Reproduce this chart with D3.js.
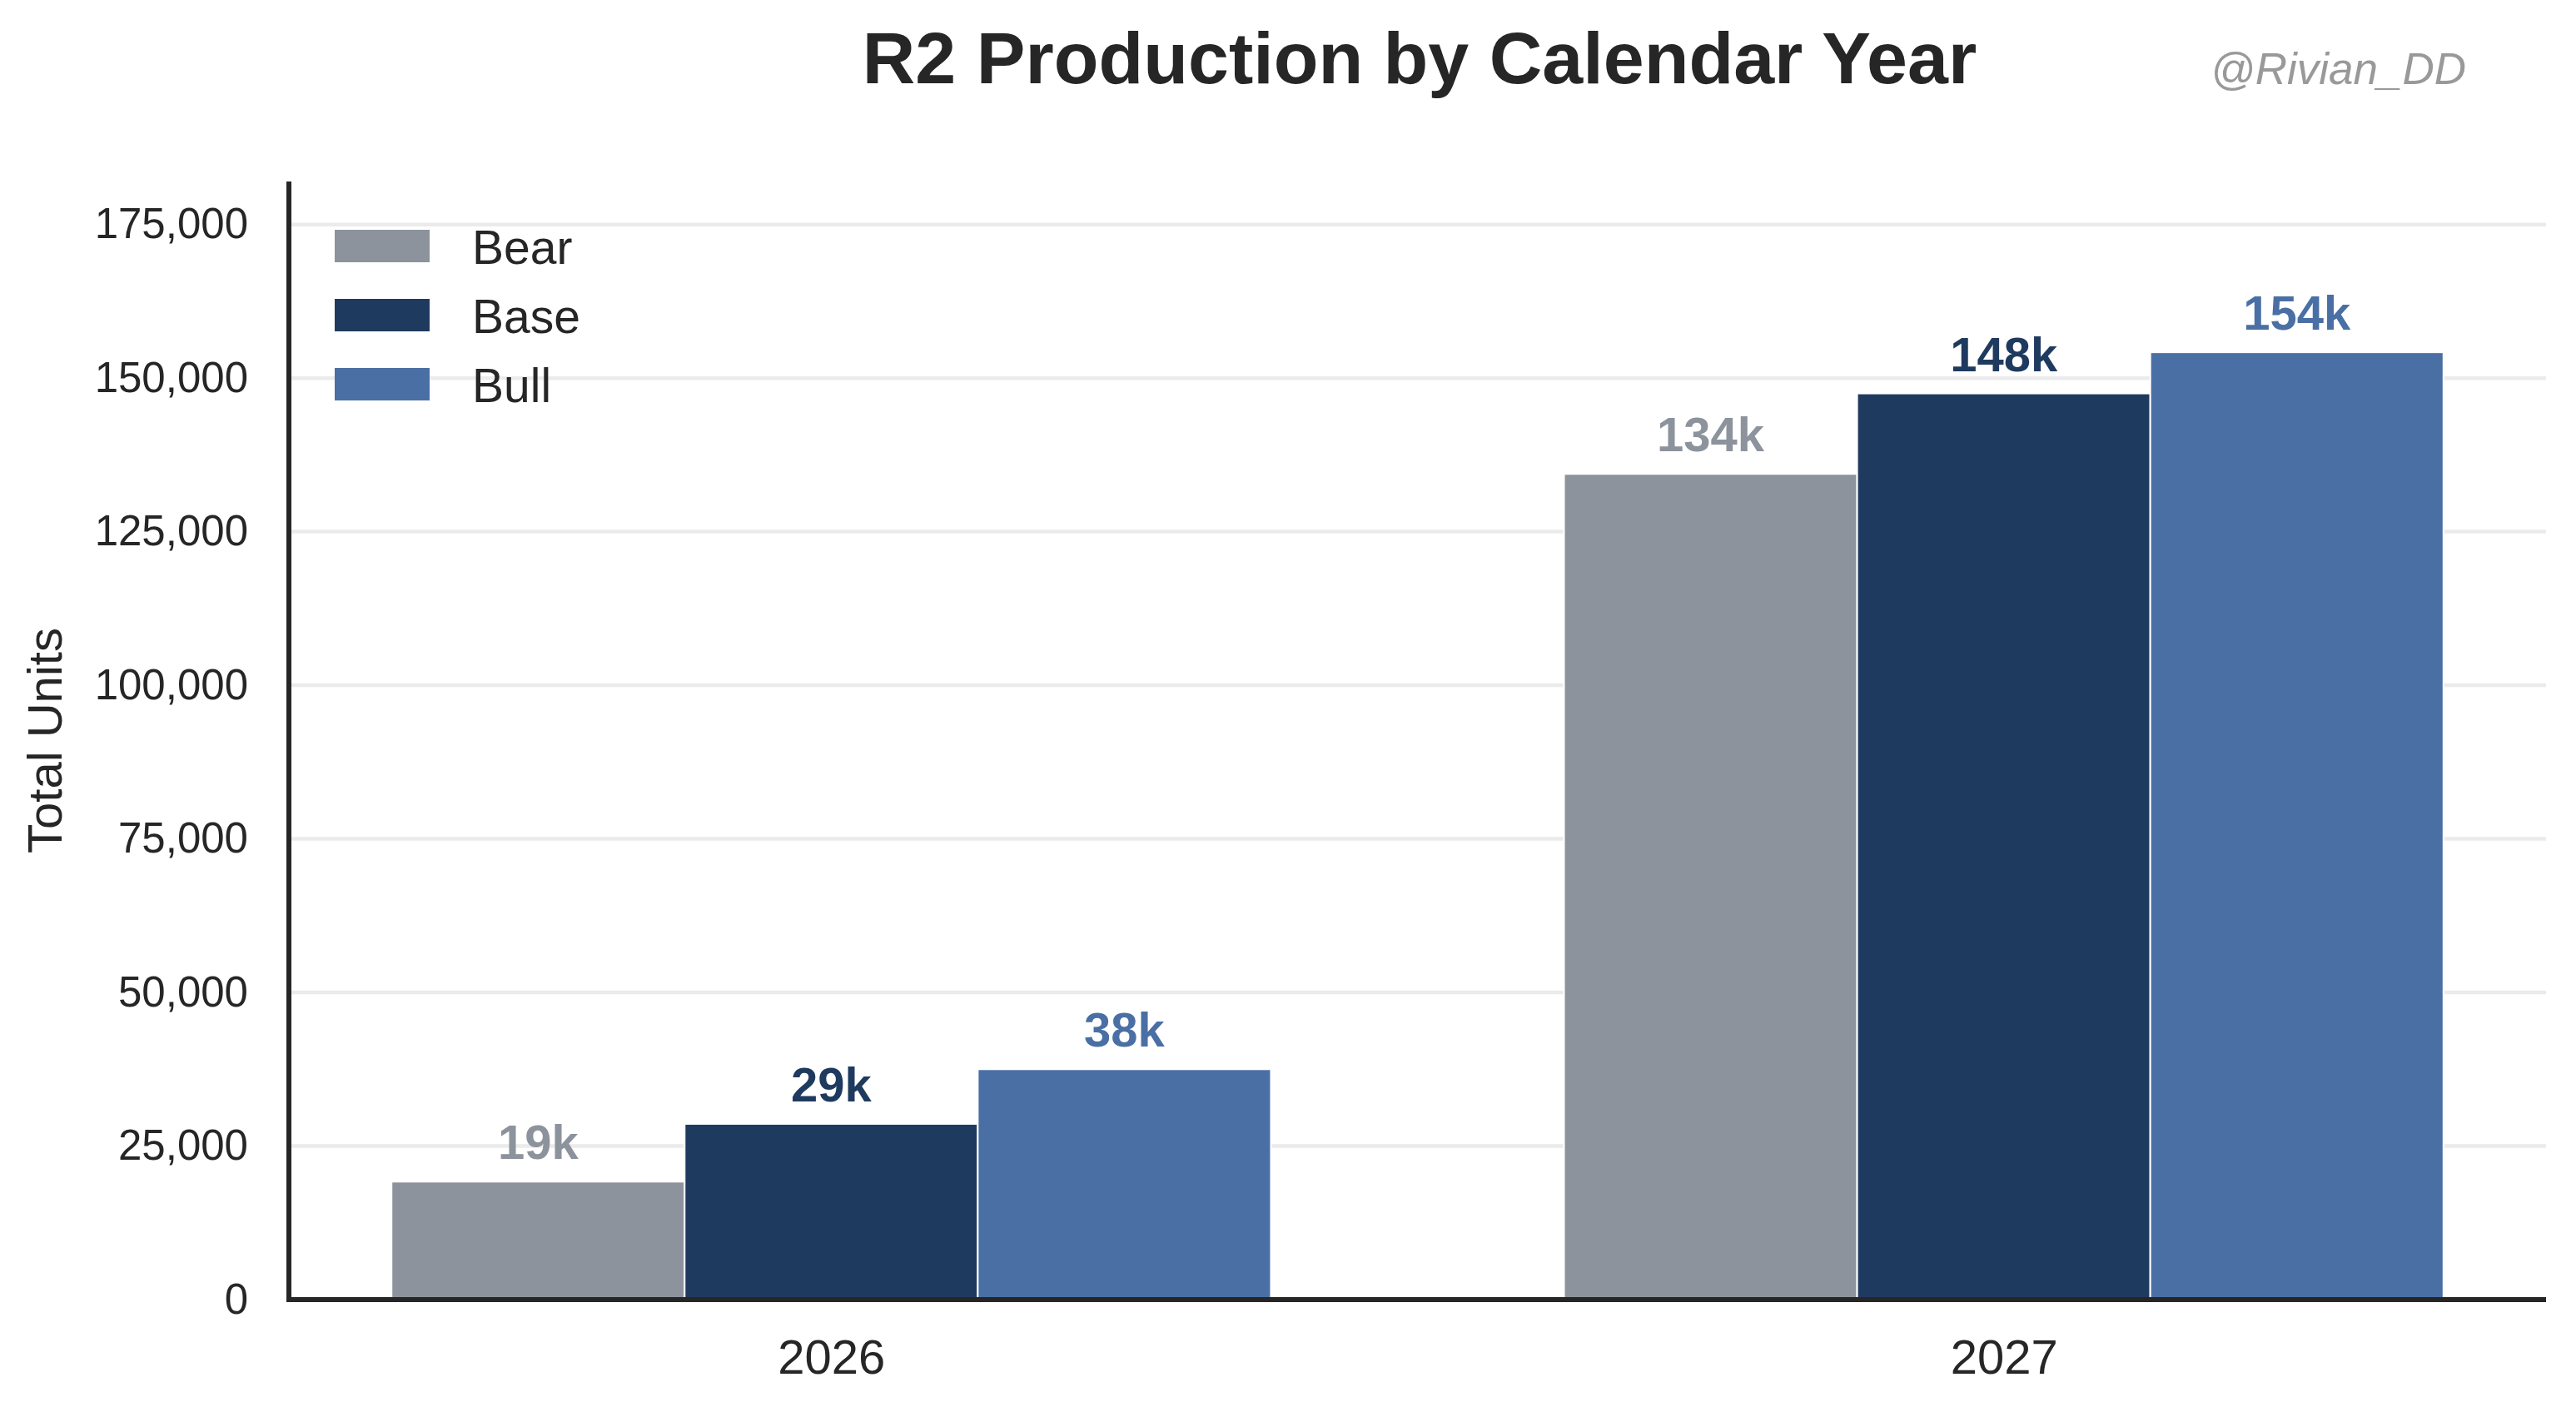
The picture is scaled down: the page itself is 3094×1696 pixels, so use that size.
<!DOCTYPE html>
<html>
<head>
<meta charset="utf-8">
<script src="https://cdn.jsdelivr.net/npm/d3@7"></script>
<style>
  body { margin: 0; background: #fff; }
  text { font-family: "Liberation Sans", Arial, sans-serif; }
</style>
</head>
<body>
<svg id="chart" width="3094" height="1696"></svg>
<script>
const years = ["2026", "2027"];
const scenarios = ["Bear", "Base", "Bull"];
const bear = [19200, 134400];
const base = [28600, 147500];
const bull = [37500, 154200];
const barLabels = [["19k", "134k"], ["29k", "148k"], ["38k", "154k"]];
const yTicks = [0, 25000, 50000, 75000, 100000, 125000, 150000, 175000];
const colors = ["#8c939c", "#1f3a5f", "#4a6fa5"];

const series = [bear, base, bull];

const svg = d3.select("#chart");
const margin = {top: 218, right: 36, bottom: 135, left: 347};
const width = +svg.attr("width");
const height = +svg.attr("height");

const barW = 0.25;
const x = d3.scaleLinear()
  .domain([-0.4625, 1.4625])
  .range([margin.left, width - margin.right]);
const y = d3.scaleLinear()
  .domain([0, 182000])
  .range([height - margin.bottom, margin.top]);

// grid
svg.append("g")
  .selectAll("line")
  .data(yTicks.slice(1))
  .join("line")
    .attr("x1", margin.left)
    .attr("x2", width - margin.right)
    .attr("y1", d => y(d))
    .attr("y2", d => y(d))
    .attr("stroke", "#ebebeb")
    .attr("stroke-width", 4.5);

// bars
const groups = svg.append("g")
  .selectAll("g")
  .data(series)
  .join("g")
    .attr("fill", (d, i) => colors[i]);

groups.selectAll("rect")
  .data((d, i) => d.map((v, j) => ({v, j, i})))
  .join("rect")
    .attr("x", d => x(d.j + (d.i - 1) * barW - barW / 2))
    .attr("width", x(barW) - x(0))
    .attr("y", d => y(d.v))
    .attr("height", d => y(0) - y(d.v))
    .attr("stroke", "#fff")
    .attr("stroke-width", 2);

groups.selectAll("text")
  .data((d, i) => d.map((v, j) => ({v, j, i})))
  .join("text")
    .attr("x", d => x(d.j + (d.i - 1) * barW))
    .attr("y", d => y(d.v) - 27)
    .attr("text-anchor", "middle")
    .attr("font-size", 58)
    .attr("font-weight", "bold")
    .text(d => barLabels[d.i][d.j]);

// y axis
const yAxis = svg.append("g")
  .attr("transform", `translate(${margin.left},0)`)
  .call(d3.axisLeft(y).tickValues(yTicks).tickSize(0).tickPadding(49).tickFormat(d3.format(",")));
yAxis.select(".domain").remove();
yAxis.selectAll("text")
  .attr("font-size", 51)
  .attr("fill", "#262626")
  .style("font-family", "'Liberation Sans', Arial, sans-serif");

// x axis
const xAxis = svg.append("g")
  .attr("transform", `translate(0,${y(0)})`)
  .call(d3.axisBottom(x).tickValues([0, 1]).tickSize(0).tickFormat(i => years[i]));
xAxis.select(".domain").remove();
xAxis.selectAll("text")
  .attr("dy", null)
  .attr("y", 89)
  .attr("font-size", 58)
  .attr("fill", "#262626")
  .style("font-family", "'Liberation Sans', Arial, sans-serif");

// spines
svg.append("line")
  .attr("x1", margin.left).attr("x2", margin.left)
  .attr("y1", margin.top).attr("y2", y(0) + 3)
  .attr("stroke", "#262626").attr("stroke-width", 6);
svg.append("line")
  .attr("x1", margin.left - 3).attr("x2", width - margin.right)
  .attr("y1", y(0)).attr("y2", y(0))
  .attr("stroke", "#262626").attr("stroke-width", 6);

// y label
svg.append("text")
  .attr("transform", `translate(74,${(margin.top + y(0)) / 2}) rotate(-90)`)
  .attr("text-anchor", "middle")
  .attr("font-size", 58)
  .attr("fill", "#262626")
  .text("Total Units");

// legend
const legend = svg.append("g")
  .selectAll("g")
  .data(scenarios)
  .join("g")
    .attr("transform", (d, i) => `translate(402,${276 + i * 83})`);
legend.append("rect")
  .attr("width", 114)
  .attr("height", 39)
  .attr("fill", (d, i) => colors[i]);
legend.append("text")
  .attr("x", 165)
  .attr("y", 41)
  .attr("font-size", 57)
  .attr("fill", "#262626")
  .text(d => d);

// title + watermark
svg.append("text")
  .attr("x", 1705)
  .attr("y", 100)
  .attr("text-anchor", "middle")
  .attr("font-size", 88)
  .attr("font-weight", "bold")
  .attr("fill", "#262626")
  .text("R2 Production by Calendar Year");

svg.append("text")
  .attr("x", 2962)
  .attr("y", 101)
  .attr("text-anchor", "end")
  .attr("font-size", 53)
  .attr("font-style", "italic")
  .attr("fill", "#999999")
  .text("@Rivian_DD");
</script>
</body>
</html>
